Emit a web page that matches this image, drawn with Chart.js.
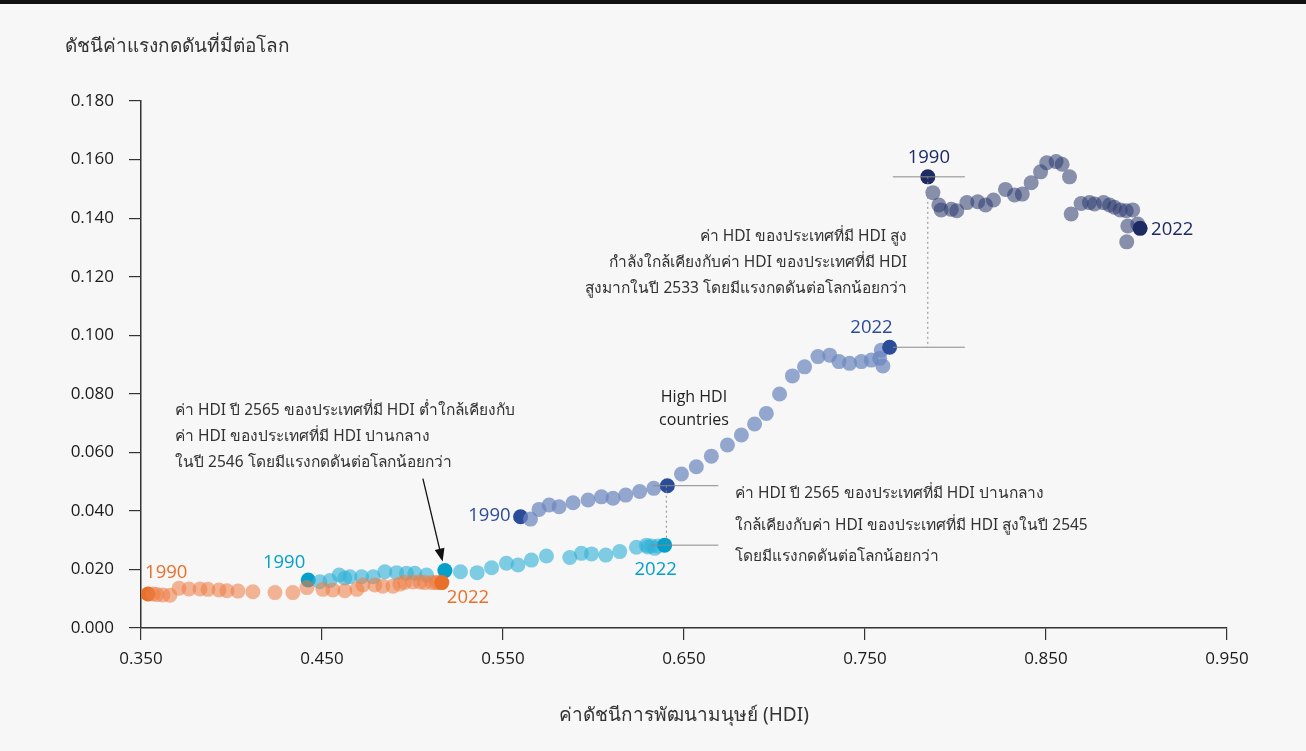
<!DOCTYPE html>
<html lang="th">
<head>
<meta charset="utf-8">
<title>HDI vs planetary pressures</title>
<script src="https://cdn.jsdelivr.net/npm/chart.js@4.4.1/dist/chart.umd.min.js"></script>
<style>
  html, body { margin: 0; padding: 0; background: #f7f7f7; }
  #wrap { position: relative; width: 1306px; height: 751px; }
  #topbar { position: absolute; left: 0; top: 0; width: 1306px; height: 4px; background: #111; }
  canvas { display: block; }
</style>
</head>
<body>
<div id="wrap">
  <div id="topbar"></div>
  <canvas id="chart-hdi" width="1306" height="751"></canvas>
</div>
<script>
// ---- DATA (HDI x, planetary pressure index y), years 1990..2022 ----
const YEARS = Array.from({ length: 33 }, (_, i) => 1990 + i);

const lowHdiX = [0.3539, 0.3566, 0.3588, 0.3621, 0.3660, 0.3710, 0.3765, 0.3826, 0.3870, 0.3931, 0.3975,
  0.4036, 0.4118, 0.4240, 0.4339, 0.4417, 0.4505, 0.4560, 0.4626, 0.4693, 0.4726, 0.4792,
  0.4836, 0.4892, 0.4930, 0.4958, 0.5002, 0.5041, 0.5068, 0.5107, 0.5129, 0.5145, 0.5162];
const lowHdiY = [0.0116, 0.0116, 0.0114, 0.0113, 0.0112, 0.0136, 0.0133, 0.0133, 0.0132, 0.0130, 0.0127,
  0.0126, 0.0124, 0.0121, 0.0121, 0.0138, 0.0132, 0.0130, 0.0127, 0.0132, 0.0147, 0.0147,
  0.0143, 0.0143, 0.0150, 0.0156, 0.0157, 0.0157, 0.0155, 0.0155, 0.0155, 0.0155, 0.0155];

const medHdiX = [0.4424, 0.4488, 0.4544, 0.4595, 0.4626, 0.4654, 0.4719, 0.4783, 0.4847, 0.4912, 0.4967,
  0.5013, 0.5078, 0.5179, 0.5265, 0.5357, 0.5437, 0.5519, 0.5583, 0.5657, 0.5740, 0.5869,
  0.5933, 0.5989, 0.6068, 0.6145, 0.6237, 0.6292, 0.6320, 0.6338, 0.6300, 0.6356, 0.6393];
const medHdiY = [0.0164, 0.0158, 0.0162, 0.0181, 0.0171, 0.0175, 0.0175, 0.0175, 0.0192, 0.0189, 0.0187,
  0.0187, 0.0181, 0.0196, 0.0192, 0.0189, 0.0206, 0.0221, 0.0215, 0.0232, 0.0246, 0.0241,
  0.0255, 0.0253, 0.0249, 0.0261, 0.0276, 0.0283, 0.0280, 0.0272, 0.0277, 0.0280, 0.0283];

const highHdiX = [0.5597, 0.5652, 0.5699, 0.5755, 0.5810, 0.5887, 0.5970, 0.6044, 0.6108, 0.6178, 0.6255,
  0.6333, 0.6408, 0.6486, 0.6568, 0.6651, 0.6740, 0.6817, 0.6890, 0.6955, 0.7028, 0.7099,
  0.7166, 0.7240, 0.7305, 0.7356, 0.7415, 0.7480, 0.7535, 0.7581, 0.7599, 0.7590, 0.7636];
const highHdiY = [0.0380, 0.0372, 0.0405, 0.0420, 0.0414, 0.0428, 0.0437, 0.0448, 0.0443, 0.0454, 0.0466,
  0.0477, 0.0486, 0.0526, 0.0551, 0.0587, 0.0625, 0.0659, 0.0697, 0.0733, 0.0799, 0.0861,
  0.0892, 0.0927, 0.0932, 0.0910, 0.0904, 0.0910, 0.0915, 0.0921, 0.0895, 0.0949, 0.0959];

const vhighHdiX = [0.7847, 0.7875, 0.7908, 0.7921, 0.7977, 0.8007, 0.8063, 0.8123, 0.8166, 0.8210, 0.8276,
  0.8326, 0.8369, 0.8418, 0.8470, 0.8504, 0.8556, 0.8589, 0.8630, 0.8639, 0.8694, 0.8740,
  0.8768, 0.8818, 0.8851, 0.8878, 0.8910, 0.8943, 0.8979, 0.8952, 0.8946, 0.9007, 0.9020];
const vhighHdiY = [0.1541, 0.1487, 0.1445, 0.1428, 0.1430, 0.1425, 0.1453, 0.1456, 0.1445, 0.1462, 0.1498,
  0.1479, 0.1482, 0.1521, 0.1558, 0.1589, 0.1593, 0.1584, 0.1541, 0.1414, 0.1450, 0.1453,
  0.1448, 0.1453, 0.1445, 0.1437, 0.1428, 0.1425, 0.1428, 0.1373, 0.1319, 0.1380, 0.1365];

const X_TICKS = [0.35, 0.45, 0.55, 0.65, 0.75, 0.85, 0.95];
const Y_TICKS = [0, 0.02, 0.04, 0.06, 0.08, 0.10, 0.12, 0.14, 0.16, 0.18];

const Y_TITLE = 'ดัชนีค่าแรงกดดันที่มีต่อโลก';
const X_TITLE = 'ค่าดัชนีการพัฒนามนุษย์ (HDI)';

// ---- STYLE ----
const FONT = "'Open Sans', Lato, sans-serif";
const THAI_FONT = "'Noto Sans', 'Open Sans', sans-serif";

const SERIES = [
  { key: 'low',   xs: lowHdiX,   ys: lowHdiY,   light: 'rgba(236,124,66,0.55)', dark: '#e8702a', marks: [0, 32] },
  { key: 'med',   xs: medHdiX,   ys: medHdiY,   light: 'rgba(52,178,214,0.62)', dark: '#04a0c9', marks: [0, 13, 32] },
  { key: 'high',  xs: highHdiX,  ys: highHdiY,  light: 'rgba(108,134,190,0.72)', dark: '#2b4c99', marks: [0, 12, 32] },
  { key: 'vhigh', xs: vhighHdiX, ys: vhighHdiY, light: 'rgba(44,58,110,0.55)', dark: '#1d2b62', marks: [0, 32] },
];

function toPoints(xs, ys) {
  return xs.map((x, i) => ({ x, y: ys[i], year: YEARS[i] }));
}

// ---- ANNOTATIONS PLUGIN ----
const annotations = {
  id: 'annotations',
  afterDatasetsDraw(chart) {
    const { ctx, scales: { x, y } } = chart;
    const px = (s, i) => x.getPixelForValue(s.xs[i]);
    const py = (s, i) => y.getPixelForValue(s.ys[i]);
    const [low, med, high, vh] = SERIES;

    ctx.save();

    // reference lines
    ctx.strokeStyle = '#8a8a8a';
    ctx.lineWidth = 1;
    const hline = (x0, x1, yy) => { ctx.beginPath(); ctx.moveTo(x0, yy); ctx.lineTo(x1, yy); ctx.stroke(); };

    // upper pair (very high 1990 vs high 2022)
    const ux = px(vh, 0);
    hline(ux - 35, ux + 37, py(vh, 0));
    hline(ux - 35, ux + 37, py(high, 32));
    // lower pair (high 2002 vs medium 2022)
    const lx = px(high, 12);
    hline(lx - 14, lx + 51, py(high, 12));
    hline(px(med, 32) - 14, lx + 51, py(med, 32));

    ctx.setLineDash([2, 3]);
    ctx.beginPath(); ctx.moveTo(ux, py(vh, 0)); ctx.lineTo(ux, py(high, 32)); ctx.stroke();
    ctx.beginPath(); ctx.moveTo(lx - 1, py(high, 12)); ctx.lineTo(lx - 1, py(med, 32)); ctx.stroke();
    ctx.setLineDash([]);

    // arrow to medium 2003
    const ax = px(med, 13) - 3, ay = py(med, 13) - 12;
    const sx = ax - 19, sy = ay - 80;
    ctx.strokeStyle = '#111';
    ctx.fillStyle = '#111';
    ctx.lineWidth = 1.3;
    ctx.beginPath(); ctx.moveTo(sx, sy); ctx.lineTo(ax, ay); ctx.stroke();
    const ang = Math.atan2(ay - sy, ax - sx);
    ctx.beginPath();
    ctx.moveTo(ax + 3 * Math.cos(ang), ay + 3 * Math.sin(ang));
    ctx.lineTo(ax - 10 * Math.cos(ang) + 5 * Math.sin(ang), ay - 10 * Math.sin(ang) - 5 * Math.cos(ang));
    ctx.lineTo(ax - 10 * Math.cos(ang) - 5 * Math.sin(ang), ay - 10 * Math.sin(ang) + 5 * Math.cos(ang));
    ctx.closePath(); ctx.fill();

    // year labels
    ctx.textBaseline = 'middle';
    ctx.font = `18.5px ${FONT}`;
    const lab = (txt, color, xx, yy, align) => { ctx.fillStyle = color; ctx.textAlign = align; ctx.fillText(txt, xx, yy); };
    lab('1990', low.dark,  px(low, 0) - 3,   py(low, 0) - 21,   'left');
    lab('2022', low.dark,  px(low, 32) + 5,  py(low, 32) + 15,  'left');
    lab('1990', med.dark,  px(med, 0) - 3,   py(med, 0) - 17,   'right');
    lab('2022', med.dark,  px(med, 32) - 9,  py(med, 32) + 25,  'center');
    lab('1990', high.dark, px(high, 0) - 10, py(high, 0) - 1,   'right');
    lab('2022', high.dark, px(high, 32) + 3, py(high, 32) - 19, 'right');
    lab('1990', vh.dark,   px(vh, 0) + 1,    py(vh, 0) - 19,    'center');
    lab('2022', vh.dark,   px(vh, 32) + 11,  py(vh, 32) + 1,    'left');

    // group label
    ctx.fillStyle = '#222';
    ctx.textAlign = 'center';
    ctx.font = `500 16px ${FONT}`;
    ctx.fillText('High HDI', 694, 397);
    ctx.fillText('countries', 694, 420);

    // notes
    ctx.fillStyle = '#333';
    ctx.font = `15.5px ${THAI_FONT}`;
    ctx.textAlign = 'left';
    ['ค่า HDI ปี 2565 ของประเทศที่มี HDI ต่ำใกล้เคียงกับ',
     'ค่า HDI ของประเทศที่มี HDI ปานกลาง',
     'ในปี 2546 โดยมีแรงกดดันต่อโลกน้อยกว่า'].forEach((t, i) => ctx.fillText(t, 175, 411 + i * 26));

    ['ค่า HDI ปี 2565 ของประเทศที่มี HDI ปานกลาง',
     'ใกล้เคียงกับค่า HDI ของประเทศที่มี HDI สูงในปี 2545',
     'โดยมีแรงกดดันต่อโลกน้อยกว่า'].forEach((t, i) => ctx.fillText(t, 735, 494 + i * 31.5));

    ctx.textAlign = 'right';
    ['ค่า HDI ของประเทศที่มี HDI สูง',
     'กำลังใกล้เคียงกับค่า HDI ของประเทศที่มี HDI',
     'สูงมากในปี 2533 โดยมีแรงกดดันต่อโลกน้อยกว่า'].forEach((t, i) => ctx.fillText(t, 907, 237 + i * 26));

    // axis titles
    ctx.fillStyle = '#333';
    ctx.font = `19px ${THAI_FONT}`;
    ctx.textAlign = 'left';
    ctx.fillText(Y_TITLE, 65, 47);
    ctx.textAlign = 'center';
    ctx.fillText(X_TITLE, (chart.chartArea.left + chart.chartArea.right) / 2, 716);

    ctx.restore();
  }
};

// ---- CHART ----
const chartHdi = new Chart(document.getElementById('chart-hdi'), {
  type: 'scatter',
  data: {
    datasets: SERIES.map(s => ({
      label: s.key,
      data: toPoints(s.xs, s.ys),
      backgroundColor: s.xs.map((_, i) => s.marks.includes(i) ? s.dark : s.light),
      borderWidth: 0,
      pointRadius: 7.5,
      pointHoverRadius: 7.5,
    }))
  },
  options: {
    responsive: false,
    animation: false,
    events: [],
    layout: { padding: { left: 0, top: 101, right: 79, bottom: 0 } },
    plugins: { legend: { display: false }, tooltip: { enabled: false } },
    scales: {
      x: {
        type: 'linear',
        min: 0.35, max: 0.95,
        afterFit: s => { s.height = 123; },
        afterBuildTicks: s => { s.ticks = X_TICKS.map(v => ({ value: v })); },
        grid: { drawOnChartArea: false, drawTicks: true, tickLength: 12, color: '#333', lineWidth: 1.2 },
        border: { display: true, color: '#333', width: 1.5 },
        ticks: { color: '#1a1a1a', padding: 9, font: { family: FONT, size: 17 }, callback: v => v.toFixed(3) },
      },
      y: {
        type: 'linear',
        min: 0, max: 0.18,
        afterFit: s => { s.width = 141; },
        afterBuildTicks: s => { s.ticks = Y_TICKS.map(v => ({ value: v })); },
        grid: { drawOnChartArea: false, drawTicks: true, tickLength: 12, color: '#333', lineWidth: 1.2 },
        border: { display: true, color: '#333', width: 1.5 },
        ticks: { color: '#1a1a1a', padding: 15, font: { family: FONT, size: 17 }, callback: v => v.toFixed(3) },
      }
    }
  },
  plugins: [annotations]
});
</script>
</body>
</html>
